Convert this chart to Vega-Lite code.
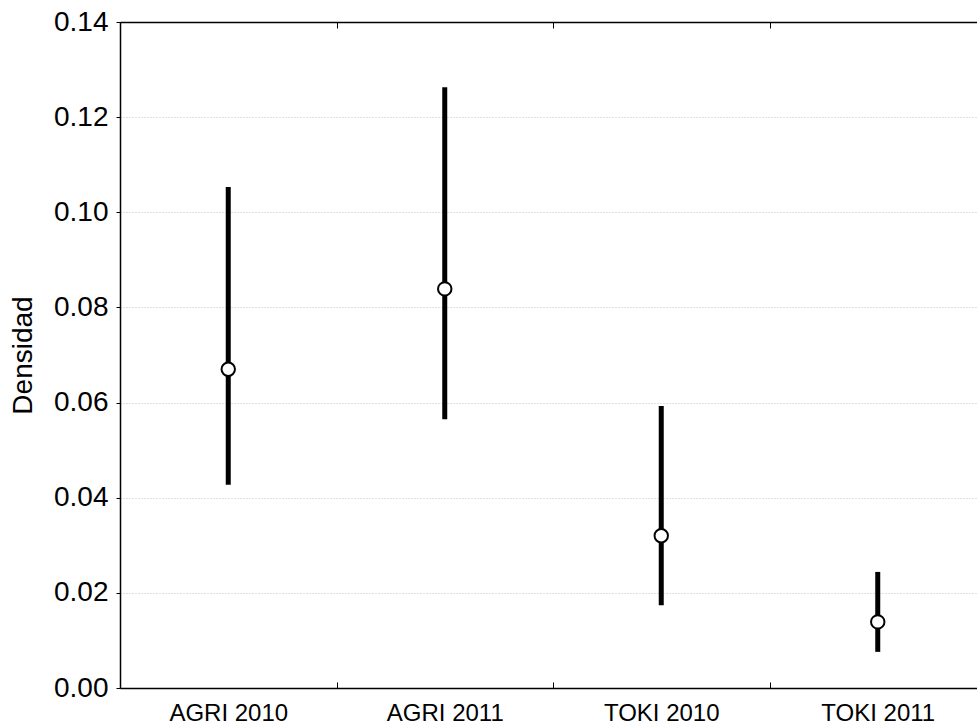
{
  "$schema": "https://vega.github.io/schema/vega-lite/v6.json",
  "autosize": {"type": "none"},
  "padding": {"left": 120, "top": 22, "right": 0, "bottom": 40},
  "width": 857,
  "height": 666,
  "background": "white",
  "config": {
    "view": {"stroke": null},
    "font": "Liberation Sans"
  },
  "data": {
    "values": [
      {"grupo": "AGRI 2010", "media": 0.067, "inf": 0.0427, "sup": 0.1053},
      {"grupo": "AGRI 2011", "media": 0.0839, "inf": 0.0565, "sup": 0.1263},
      {"grupo": "TOKI 2010", "media": 0.032, "inf": 0.0174, "sup": 0.0593},
      {"grupo": "TOKI 2011", "media": 0.0139, "inf": 0.0076, "sup": 0.0244}
    ]
  },
  "layer": [
    {
      "mark": {"type": "rule", "strokeWidth": 5, "color": "black"},
      "encoding": {
        "x": {
          "field": "grupo",
          "type": "nominal",
          "sort": null,
          "scale": {"range": [0, 866], "paddingInner": 0, "paddingOuter": 0},
          "axis": {
            "title": null,
            "labelAngle": 0,
            "labelFontSize": 24,
            "labelColor": "black",
            "labelPadding": 19,
            "domainColor": "black",
            "domainWidth": 1.5,
            "tickColor": "black",
            "tickSize": -6,
            "tickBand": "extent",
            "grid": false
          }
        },
        "y": {
          "field": "inf",
          "type": "quantitative",
          "scale": {"domain": [0, 0.14], "nice": false},
          "axis": {
            "title": "Densidad",
            "titleFontSize": 28,
            "titleFontWeight": "normal",
            "titleColor": "black",
            "titlePadding": 16,
            "format": ".2f",
            "values": [0, 0.02, 0.04, 0.06, 0.08, 0.1, 0.12, 0.14],
            "labelFontSize": 28,
            "labelColor": "black",
            "labelPadding": 8,
            "tickSize": 4,
            "tickColor": "black",
            "domainColor": "black",
            "domainWidth": 1.5,
            "grid": true,
            "gridColor": "#c0c0c0",
            "gridDash": [1, 2],
            "gridWidth": 1
          }
        },
        "y2": {"field": "sup"}
      }
    },
    {
      "mark": {"type": "point", "shape": "circle", "filled": true, "fill": "white", "stroke": "black", "strokeWidth": 2, "size": 180, "opacity": 1},
      "encoding": {
        "x": {"field": "grupo", "type": "nominal", "sort": null, "axis": null},
        "y": {"field": "media", "type": "quantitative"}
      }
    },
    {
      "mark": {"type": "rule", "opacity": 0},
      "encoding": {
        "x": {
          "field": "grupo",
          "type": "nominal",
          "sort": null,
          "axis": {
            "orient": "top",
            "title": null,
            "labels": false,
            "domainColor": "black",
            "domainWidth": 1.5,
            "tickColor": "black",
            "tickSize": -6,
            "tickBand": "extent",
            "grid": false
          }
        }
      }
    }
  ],
  "resolve": {"axis": {"x": "independent"}}
}
